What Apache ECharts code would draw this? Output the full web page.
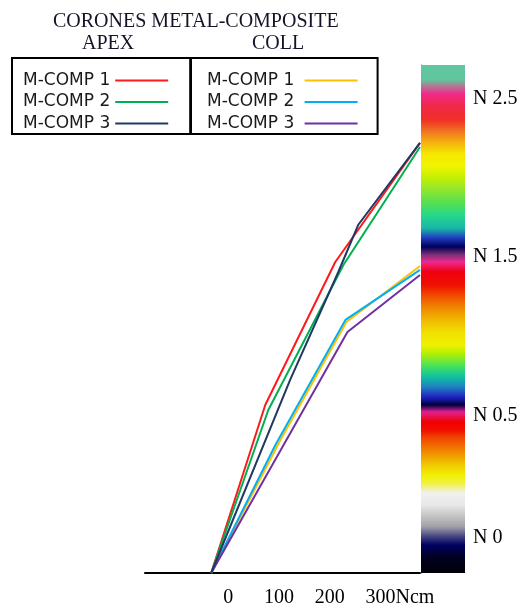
<!DOCTYPE html>
<html><head><meta charset="utf-8">
<script src="https://cdn.jsdelivr.net/npm/echarts@6/dist/echarts.min.js"></script>
<style>html,body{margin:0;padding:0;background:#fff}#c{width:522px;height:609px}</style>
</head><body><div id="c"></div>
<script>
// ---- data (x in Ncm scale of the axis, y in N scale of the colour bar) ----
const xTickValues = [0, 100, 200, 300];
const xTickLabels = ['0', '100', '200', '300Ncm'];
const yTickValues = [-0.27, 0.5, 1.5, 2.5];
const yTickLabels = ['N 0', 'N 0.5', 'N 1.5', 'N 2.5'];
const itemNames = ['M-COMP 1', 'M-COMP 2', 'M-COMP 3'];
const groupNames = ['APEX', 'COLL'];

const apex1 = [[-33.5, -0.49], [73, 0.568], [211, 1.469], [378, 2.219]];
const apex2 = [[-33.5, -0.49], [79, 0.537], [227, 1.450], [378, 2.193]];
const apex3 = [[-33.5, -0.49], [122, 0.726], [217, 1.406], [256, 1.702], [378, 2.219]];
const coll1 = [[-33.5, -0.49], [103, 0.348], [233, 1.091], [378, 1.444]];
const coll2 = [[-33.5, -0.49], [93, 0.316], [231, 1.104], [378, 1.419]];
const coll3 = [[-33.5, -0.49], [235, 1.028], [378, 1.387]];
const colourBarValue = [1];

// ---- styles ----
const apexColors = ['#ff1a1a', '#00b050', '#1f3864'];
const collColors = ['#ffc000', '#00b0f0', '#7030a0'];
const barStops = [
  [0, '#5ec8a0'], [0.030, '#62c49c'], [0.041, '#b07a94'], [0.057, '#f02a8a'], [0.081, '#f02848'],
  [0.108, '#f03028'], [0.132, '#f07820'], [0.152, '#f4b010'], [0.175, '#f4e800'], [0.199, '#f0f400'],
  [0.219, '#c8f000'], [0.242, '#98e828'], [0.270, '#58e050'], [0.295, '#28d888'], [0.321, '#18b8a8'],
  [0.341, '#2038c0'], [0.358, '#000058'], [0.374, '#803078'], [0.388, '#f02890'], [0.407, '#f00010'],
  [0.433, '#f01000'], [0.453, '#f04800'], [0.478, '#f08800'], [0.506, '#f0c000'], [0.526, '#f0e000'],
  [0.551, '#f0f000'], [0.567, '#b8f000'], [0.594, '#40e060'], [0.614, '#10c0a0'], [0.634, '#2080c0'],
  [0.654, '#2020c0'], [0.669, '#000040'], [0.683, '#e02090'], [0.703, '#f00000'], [0.719, '#f01000'],
  [0.732, '#f04000'], [0.758, '#f08000'], [0.783, '#f0c000'], [0.807, '#f0f000'], [0.823, '#f0f040'],
  [0.843, '#f0f0f0'], [0.866, '#e8e8e8'], [0.890, '#c0c0c0'], [0.909, '#a0a0a8'], [0.929, '#404080'],
  [0.945, '#000060'], [0.970, '#000020'], [1, '#000008']
];
const serif = 'Liberation Serif';

const apexData = [apex1, apex2, apex3];
const collData = [coll1, coll2, coll3];
const sep = '|';
const apexNames = itemNames.map(n => groupNames[0] + sep + n);
const collNames = itemNames.map(n => groupNames[1] + sep + n);

function lineSeries(name, data, color) {
  return {
    type: 'line', name, data, xAxisIndex: 0, yAxisIndex: 0,
    symbol: 'none', color, lineStyle: { width: 2, color }, z: 3, clip: false
  };
}

const series = [];
collData.forEach((d, i) => series.push(lineSeries(collNames[i], d, collColors[i])));
apexData.forEach((d, i) => series.push(lineSeries(apexNames[i], d, apexColors[i])));
series.push({
  type: 'bar', data: colourBarValue, xAxisIndex: 1, yAxisIndex: 1,
  barWidth: '100%', silent: true,
  itemStyle: { color: { type: 'linear', x: 0, y: 0, x2: 0, y2: 1,
    colorStops: barStops.map(s => ({ offset: s[0], color: s[1] })) } }
});

const legendCommon = {
  orient: 'vertical', align: 'right', top: 58, selectedMode: false,
  icon: 'rect', itemWidth: 53, itemHeight: 2, itemGap: 4.5,
  borderColor: '#000', borderWidth: 2,
  textStyle: { fontFamily: 'DejaVu Sans', fontSize: 17, color: '#1a1a1a', lineHeight: 16 },
  formatter: n => n.split(sep)[1]
};

const titleStyle = { fontFamily: serif, fontSize: 20, fontWeight: 'normal', color: '#141428' };

const chart = echarts.init(document.getElementById('c'), null, { renderer: 'canvas' });
chart.setOption({
  animation: false,
  backgroundColor: '#fff',
  title: [
    { text: 'CORONES METAL-COMPOSITE', left: 53, top: 12, padding: 0, textStyle: titleStyle },
    { text: groupNames[0], left: 82, top: 34, padding: 0, textStyle: titleStyle },
    { text: groupNames[1], left: 252, top: 34, padding: 0, textStyle: titleStyle }
  ],
  legend: [
    Object.assign({}, legendCommon, { left: 12, data: apexNames, padding: [14, 22, 2, 11] }),
    Object.assign({}, legendCommon, { left: 191, data: collNames, padding: [14, 20, 2, 16],
      formatter: n => n.split(sep)[1] + ' ' })
  ],
  grid: [
    { left: 145, right: 102, top: 65, bottom: 36 },
    { left: 421, width: 44, top: 65, bottom: 36 }
  ],
  xAxis: [
    { type: 'value', gridIndex: 0, min: -164, max: 378,
      axisLine: { show: true, onZero: false, lineStyle: { color: '#000', width: 2 } },
      axisTick: { show: false }, splitLine: { show: false },
      axisLabel: { customValues: xTickValues, margin: 15, color: '#000',
        fontFamily: serif, fontSize: 20,
        formatter: v => {
          const i = xTickValues.indexOf(v);
          const t = i >= 0 ? xTickLabels[i] : '';
          return i === xTickValues.length - 1 ? '{p|}' + t : t;
        },
        rich: { p: { width: 39 } } } },
    { type: 'category', gridIndex: 1, data: ['bar'], show: false, boundaryGap: true }
  ],
  yAxis: [
    { type: 'value', gridIndex: 0, position: 'right', min: -0.49, max: 2.71,
      axisLine: { show: false }, axisTick: { show: false }, splitLine: { show: false },
      axisLabel: { customValues: yTickValues, margin: 53, color: '#000',
        fontFamily: serif, fontSize: 20, align: 'left',
        formatter: v => {
          let best = 0;
          yTickValues.forEach((t, i) => { if (Math.abs(t - v) < Math.abs(yTickValues[best] - v)) best = i; });
          return yTickLabels[best];
        } } },
    { type: 'value', gridIndex: 1, min: 0, max: 1,
      axisLine: { show: true, onZero: false, lineStyle: { color: '#666', width: 1 } },
      axisTick: { show: false }, axisLabel: { show: false }, splitLine: { show: false } }
  ],
  series
});
</script></body></html>
